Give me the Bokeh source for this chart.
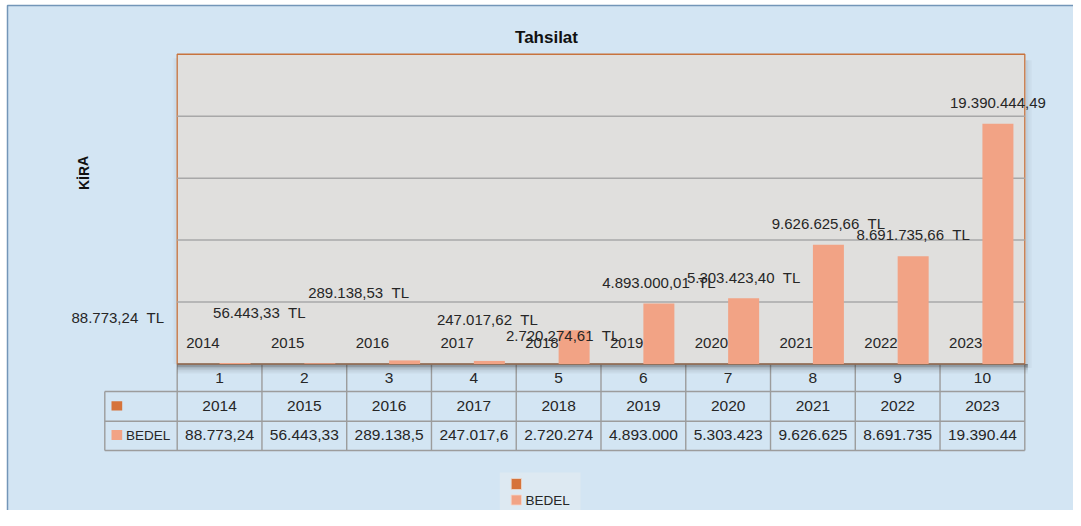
from bokeh.plotting import figure
from bokeh.models import Range1d, ColumnDataSource
from bokeh.core.properties import value
from bokeh.embed import file_html
from bokeh.resources import INLINE

# ---------------- data ----------------
years = ["2014", "2015", "2016", "2017", "2018", "2019", "2020", "2021", "2022", "2023"]
index_labels = ["1", "2", "3", "4", "5", "6", "7", "8", "9", "10"]
series1_values = [2014, 2015, 2016, 2017, 2018, 2019, 2020, 2021, 2022, 2023]
bedel = [88773.24, 56443.33, 289138.53, 247017.62, 2720274.61,
         4893000.01, 5303423.40, 9626625.66, 8691735.66, 19390444.49]
series2_name = "BEDEL"
title_text = "Tahsilat"
y_title = "KİRA"
y_max = 25_000_000
grid_step = 5_000_000

# ---------------- styling / layout (canvas pixels) ----------------
W, H = 1073, 510
CH_L, CH_T = 7, 5          # outer chart area edge
PLOT_L, PLOT_R, PLOT_T, PLOT_B = 176.7, 1024.3, 53.75, 363.5
n = len(years)
cat_w = (PLOT_R - PLOT_L) / n
px_per_val = (PLOT_B - PLOT_T) / y_max
bar_w = 31 / cat_w
dodge = 15.5 / cat_w

BG = "#D3E5F3"
PLOT_BG = "#E0DFDD"
PLOT_BORDER = "#C8733D"
GRID = "#A8A8A8"
SALMON = "#F2A385"
DARK_OR = "#D6733A"
TABLE_LINE = "#9C9C9C"
TEXT = "#262626"
LEGEND_BG = "#DDE9F2"
OUTER = "#7396B8"
FONT = value("Liberation Sans")

# label offsets (px) relative to bar top / bar centre
label_dx = [-117.3, -60.5, -46, -2, -11.5, 0, 0, 0, 0, 0]
label_dy = [-45.4, -50.5, -68.2, -41.1, 5.2, -21.2, -21.1, -21.5, -21.5, -21]

x_range = Range1d((0 - PLOT_L) / cat_w, (W - PLOT_L) / cat_w)
y_range = Range1d((PLOT_B - H) / px_per_val, PLOT_B / px_per_val)

p = figure(width=W, height=H, x_range=x_range, y_range=y_range,
           output_backend="svg", toolbar_location=None,
           x_axis_location=None, y_axis_location=None, min_border=0)
p.extra_x_ranges = {"px": Range1d(0, W)}
p.extra_y_ranges = {"px": Range1d(H, 0)}
p.grid.visible = False
p.outline_line_color = None
p.background_fill_color = "white"
p.border_fill_color = "white"

PX = dict(x_range_name="px", y_range_name="px")
PY = dict(y_range_name="px")

# outer chart area
p.quad(left=[CH_L], right=[W + 2], top=[CH_T], bottom=[H + 2], fill_color=BG,
       line_color=OUTER, line_width=1.5, **PX)

# ---------------- data table ----------------
ROW1_B, ROW2_B, ROW3_B = 391, 420.7, 450
HEAD_L = 104.3
cols = list(range(n + 1))
p.segment(x0=cols, y0=[PLOT_B] * (n + 1), x1=cols, y1=[ROW3_B] * (n + 1),
          line_color=TABLE_LINE, line_width=1.4, **PY)
p.segment(x0=[HEAD_L, HEAD_L, HEAD_L], y0=[ROW1_B, ROW2_B, ROW3_B],
          x1=[PLOT_R] * 3, y1=[ROW1_B, ROW2_B, ROW3_B],
          line_color=TABLE_LINE, line_width=1.4, **PX)
p.segment(x0=[HEAD_L], y0=[ROW1_B], x1=[HEAD_L], y1=[ROW3_B],
          line_color=TABLE_LINE, line_width=1.4, **PX)

# shadow of plot area
shadow = [(0.0, 1.5, 0.55), (1.5, 3.0, 0.40), (3.0, 4.5, 0.27), (4.5, 6.0, 0.17),
          (6.0, 7.5, 0.10), (7.5, 9.5, 0.05)]
for a, b, al in shadow:
    p.quad(left=[PLOT_L], right=[PLOT_R + 3], top=[PLOT_B + a], bottom=[PLOT_B + b],
           fill_color="#303030", fill_alpha=al, line_color=None, **PX)
for k, al in enumerate([0.12, 0.08, 0.05, 0.03]):
    p.quad(left=[PLOT_R + 1 + k * 1.5], right=[PLOT_R + 2.5 + k * 1.5], top=[PLOT_T + 6],
           bottom=[PLOT_B + 4], fill_color="#303030", fill_alpha=al, line_color=None, **PX)
for k, al in enumerate([0.06, 0.04, 0.02]):
    p.quad(left=[PLOT_L - 1.5 - k * 1.5], right=[PLOT_L - k * 1.5], top=[PLOT_T + 4],
           bottom=[PLOT_B], fill_color="#303030", fill_alpha=al, line_color=None, **PX)

# plot area
p.quad(left=[0], right=[n], bottom=[0], top=[y_max], fill_color=PLOT_BG,
       line_color=PLOT_BORDER, line_width=1.3)

# gridlines
gy = list(range(grid_step, y_max, grid_step))
p.segment(x0=[0] * len(gy), y0=gy, x1=[n] * len(gy), y1=gy, line_color=GRID, line_width=1.5)
p.segment(x0=[0], y0=[0], x1=[n], y1=[0], line_color="#6A6A6A", line_width=1)

# bars
xc = [i + 0.5 for i in range(n)]
p.vbar(x=[c - dodge for c in xc], top=series1_values, bottom=0, width=bar_w,
       fill_color=DARK_OR, line_color=None)
p.vbar(x=[c + dodge for c in xc], top=bedel, bottom=0, width=bar_w,
       fill_color=SALMON, line_color=None)


def tr_fmt(v):
    s = f"{v:,.2f}"
    return s.replace(",", "#").replace(".", ",").replace("#", ".")


bedel_txt = [tr_fmt(v) for v in bedel]
bar_labels = [t + ("\u00a0\u00a0TL" if i < n - 1 else "") for i, t in enumerate(bedel_txt)]

src = ColumnDataSource(dict(x=[c + dodge for c in xc], y=bedel, text=bar_labels,
                            dx=label_dx, dy=label_dy))
p.text(x="x", y="y", text="text", x_offset="dx", y_offset="dy", source=src,
       text_align="center", text_baseline="middle", text_font=FONT,
       text_font_size=value("15px"), text_color=TEXT)

# year labels (series 1 data labels)
p.text(x=xc, y=[0] * n, text=years, y_offset=-21, text_align="right",
       text_baseline="middle", text_font=FONT, text_font_size=value("15px"), text_color=TEXT)

# table texts
TS = value("15.5px")
p.text(x=xc, y=[377] * n, text=index_labels, text_align="center", text_baseline="middle",
       text_font=FONT, text_font_size=TS, text_color=TEXT, **PY)
p.text(x=xc, y=[405.5] * n, text=years, text_align="center", text_baseline="middle",
       text_font=FONT, text_font_size=TS, text_color=TEXT, **PY)
p.text(x=xc, y=[434.5] * n, text=[t[:9] for t in bedel_txt], text_align="center",
       text_baseline="middle", text_font=FONT, text_font_size=TS, text_color=TEXT, **PY)
p.quad(left=[111], right=[121.7], top=[400.7], bottom=[410], fill_color=DARK_OR, line_color=None, **PX)
p.quad(left=[111], right=[121.7], top=[429.5], bottom=[439.5], fill_color=SALMON, line_color=None, **PX)
p.text(x=[125.5], y=[434.5], text=[series2_name], text_align="left", text_baseline="middle",
       text_font=FONT, text_font_size=value("13.5px"), text_color=TEXT, **PX)

# title and axis title
p.text(x=[546], y=[37], text=[title_text], text_align="center", text_baseline="middle",
       text_font=FONT, text_font_size=value("17px"), text_font_style="bold", text_color="#111111", **PX)
p.text(x=[83], y=[172.5], text=[y_title], angle=1.5708, text_align="center", text_baseline="middle",
       text_font=FONT, text_font_size=value("14px"), text_font_style="bold", text_color="#111111", **PX)

# legend (compressed slightly to fit the canvas)
p.quad(left=[499.3], right=[580], top=[472], bottom=[H + 2], fill_color=LEGEND_BG, line_color=None, **PX)
p.quad(left=[510.7], right=[521], top=[478], bottom=[489], fill_color=DARK_OR,
       line_color="#EAD9CF", line_width=0.8, **PX)
p.quad(left=[510.7], right=[521], top=[494.5], bottom=[504.5], fill_color=SALMON,
       line_color="#F4D6CA", line_width=0.8, **PX)
p.text(x=[525], y=[499.5], text=[series2_name], text_align="left", text_baseline="middle",
       text_font=FONT, text_font_size=value("13.5px"), text_color=TEXT, **PX)

open("out.html", "w").write(file_html(p, INLINE))
